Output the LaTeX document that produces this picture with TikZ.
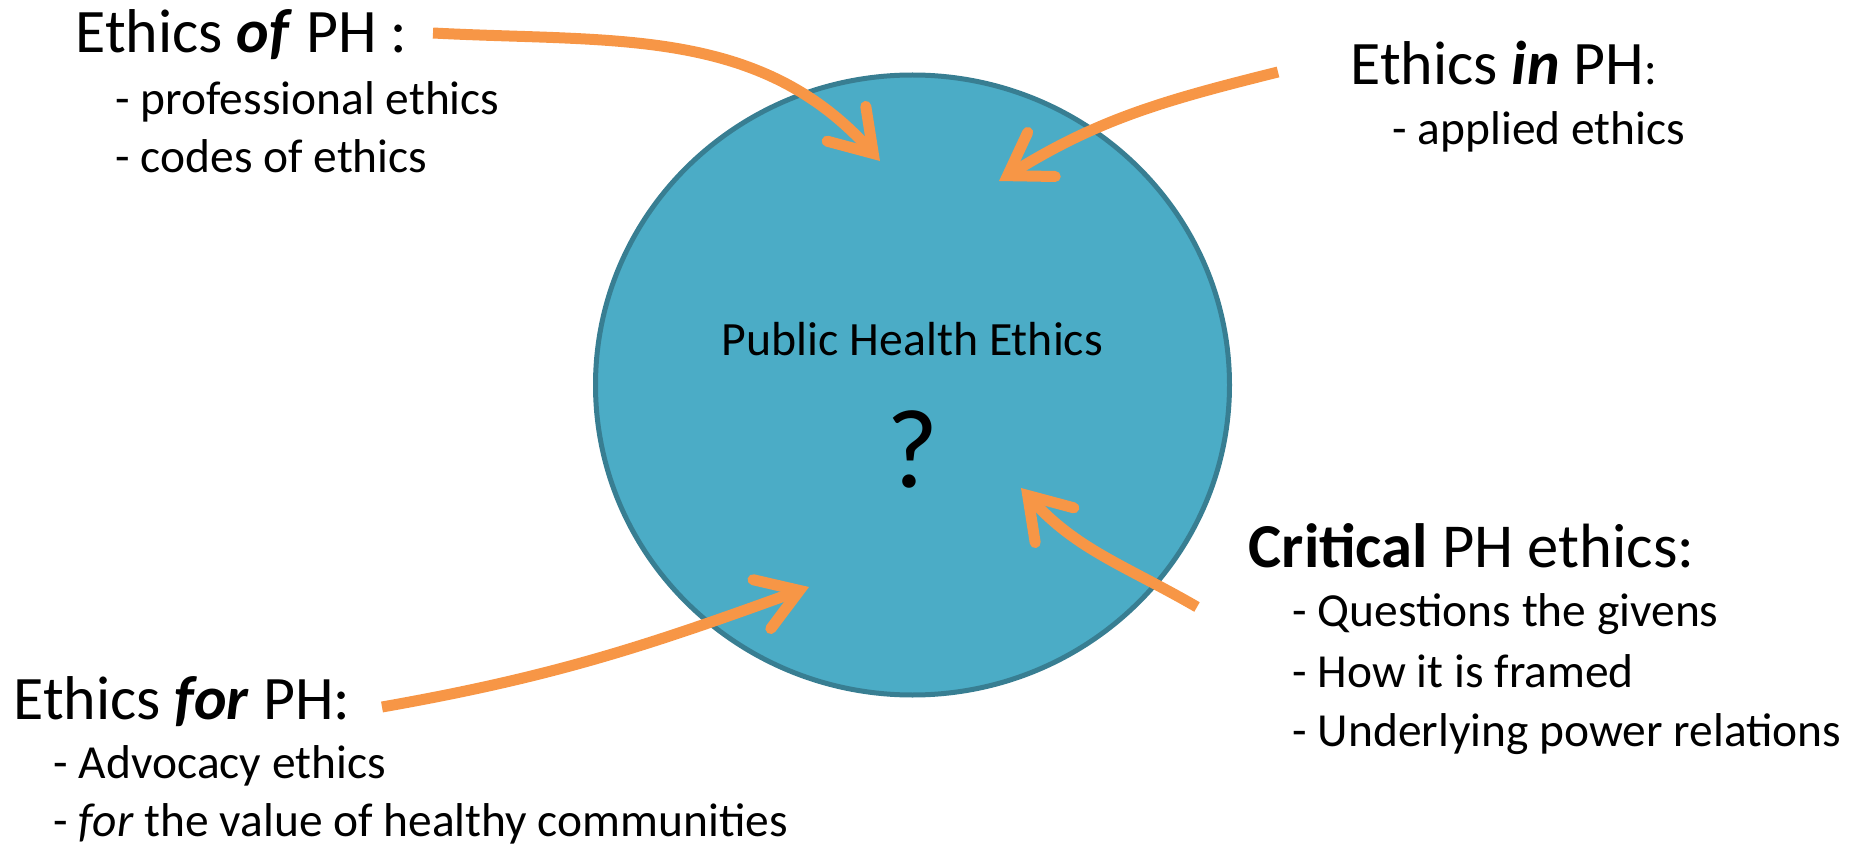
\documentclass[tikz,border=0pt]{standalone}
\usepackage{fontspec}
\setmainfont{Carlito}
\usepackage{tikz}
\usetikzlibrary{arrows.meta}
\definecolor{phblue}{HTML}{4BACC6}
\definecolor{phedge}{HTML}{387E92}
\definecolor{phorange}{HTML}{F79646}

\begin{document}
\begin{tikzpicture}[x=1cm,y=1cm]
            \tikzstyle{headtext}=[anchor=base west,inner sep=0pt,font=\fontsize{17.6}{20}\selectfont]
            \tikzstyle{subtext}=[anchor=base west,inner sep=0pt,font=\fontsize{13.5}{16}\selectfont]
            \tikzstyle{pointer}=[draw=phorange,line width=0.11cm,-{Straight Barb[length=4mm,width=5.2mm,line cap=round,line join=miter]}]
                    \useasboundingbox (0,0) rectangle (18.58,8.45);
                    \draw[phedge,fill=phblue,line width=0.05cm] (9.125,4.60) ellipse [x radius=3.17,y radius=3.10];
                    \node[anchor=base,inner sep=0pt,font=\fontsize{13.6}{16}\selectfont] (C-0) at (9.125,4.90){Public Health Ethics};
                    \node[anchor=base,inner sep=0pt,font=\fontsize{32}{36}\selectfont] (C-1) at (9.125,3.58){?};

                    \node[headtext] (H-0) at (0.75,7.92){Ethics \textbf{\textit{of}} PH :};
                    \node[subtext] (S-0-0) at (1.15,7.30){- professional ethics};
                    \node[subtext] (S-0-1) at (1.15,6.72){- codes of ethics};

                    \node[headtext] (H-1) at (13.50,7.60){Ethics \textbf{\textit{in}} PH{\fontsize{13.5}{16}\selectfont:}};
                    \node[subtext] (S-1-0) at (13.92,7.00){- applied ethics};

                    \node[headtext,font=\fontsize{17.8}{20}\selectfont] (H-2) at (12.48,2.78){\textbf{Critical} PH ethics:};
                    \node[subtext] (S-2-0) at (12.92,2.19){- Questions the givens};
                    \node[subtext] (S-2-1) at (12.92,1.58){- How it is framed};
                    \node[subtext] (S-2-2) at (12.92,0.99){- Underlying power relations};

                    \node[headtext] (H-3) at (0.13,1.26){Ethics \textbf{\textit{for}} PH:};
                    \node[subtext] (S-3-0) at (0.53,0.67){- Advocacy ethics};
                    \node[subtext] (S-3-1) at (0.53,0.09){- \textit{for} the value of healthy communities};

                    \coordinate (A-0) at (4.33,8.12);
                    \coordinate (T-0) at (8.80,6.84);
                    \coordinate (A-1) at (12.78,7.73);
                    \coordinate (T-1) at (9.99,6.64);
                    \coordinate (A-2) at (11.97,2.38);
                    \coordinate (T-2) at (10.21,3.57);
                    \coordinate (A-3) at (3.82,1.38);
                    \coordinate (T-3) at (8.09,2.58);

                \foreach \from/\to/\o/\i in {0/0/-3/132, 1/1/194/32, 2/2/150/-48, 3/3/10/200}
                    \draw[pointer] (A-\from) to[out=\o,in=\i] (T-\to);
        \end{tikzpicture}
\end{document}
